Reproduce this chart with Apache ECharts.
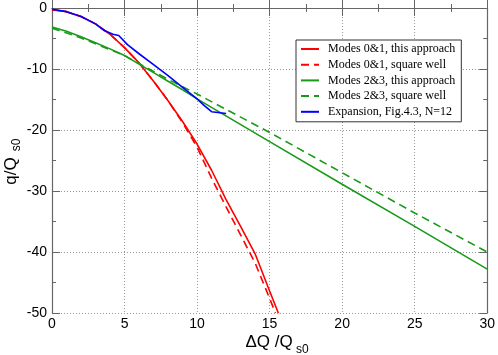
<!DOCTYPE html>
<html><head><meta charset="utf-8">
<script src="https://cdn.jsdelivr.net/npm/echarts@6/dist/echarts.min.js"></script>
<style>html,body{margin:0;padding:0;background:#fff}#c{width:498px;height:355px}</style>
</head><body><div id="c"></div>
<script>
// Data
const redSolidX = [0, 1, 2, 3, 4, 5, 6, 7, 8, 9, 10, 11, 12, 13, 14, 15, 15.6];
const redSolidY = [-0.3, -0.6, -1.4, -2.6, -4.3, -6.5, -9.0, -12.0, -15.2, -18.6, -22.3, -26.6, -31.4, -35.8, -40.3, -46.4, -50];
const redDashX = [0, 1, 2, 3, 4, 5, 6, 7, 8, 9, 10, 11, 12, 13, 14, 15, 15.4];
const redDashY = [-0.3, -0.6, -1.4, -2.6, -4.3, -6.5, -9.0, -12.0, -15.2, -18.8, -22.8, -27.9, -32.6, -37.2, -41.8, -47.6, -50];
const greenSolidX = [0, 1, 2, 3, 4, 5, 6, 7, 8, 9, 10, 15, 20, 25, 30];
const greenSolidY = [-3.1, -3.8, -4.7, -5.7, -6.7, -7.8, -9.2, -10.6, -12.0, -13.4, -14.9, -21.9, -28.9, -35.8, -42.8];
const greenDashX = [0, 2, 5, 7, 8, 10, 15, 20, 25, 30];
const greenDashY = [-3.3, -4.9, -7.8, -10.4, -11.7, -14.1, -20.4, -27.0, -33.6, -40.0];
const blueX = [0, 1, 2, 3, 3.6, 4.2, 4.6, 5.2, 6, 7, 8, 9, 10, 10.5, 11, 12];
const blueY = [-0.2, -0.6, -1.4, -2.6, -3.7, -4.3, -4.5, -6.0, -7.5, -9.3, -11.1, -13.0, -14.9, -16.0, -17.0, -17.3];
const seriesNames = ['Modes 0&1, this approach', 'Modes 0&1, square well', 'Modes 2&3, this approach', 'Modes 2&3, square well', 'Expansion, Fig.4.3, N=12'];
const xTicks = [0, 5, 10, 15, 20, 25, 30];
const yTicks = [0, -10, -20, -30, -40, -50];

const zip = (xs, ys) => xs.map((x, i) => [x, ys[i]]);
const RED = '#ff0000', GREEN = '#1a9a1a', BLUE = '#0000ff';
const dash = [8, 5];
function line(name, xs, ys, color, dashed, z) {
  return { name, type: 'line', data: zip(xs, ys), showSymbol: false, symbol: 'none', z,
    lineStyle: { color, width: 1.6, type: dashed ? dash : 'solid' }, itemStyle: { color }, animation: false };
}
const axisCol = '#666';
const gridLine = { show: true, lineStyle: { color: '#999', type: [1, 2], width: 1 } };
const tickCommon = { show: true, inside: true, length: 8, lineStyle: { color: axisCol } };
const minorCommon = { show: true, splitNumber: 2, length: 4, lineStyle: { color: axisCol } };
const labelFont = { fontFamily: 'Liberation Sans', fontSize: 14, color: '#000' };

const chart = echarts.init(document.getElementById('c'), null, { renderer: 'canvas' });
chart.setOption({
  animation: false,
  grid: { left: 52, right: 10, top: 8, bottom: 42, containLabel: false },
  xAxis: [
    { type: 'value', min: xTicks[0], max: xTicks[xTicks.length - 1], interval: 5, position: 'bottom',
      axisLine: { show: true, lineStyle: { color: axisCol, width: 1.2 } },
      axisTick: tickCommon, minorTick: minorCommon, splitLine: gridLine,
      axisLabel: Object.assign({ margin: 4 }, labelFont) },
    { type: 'value', min: 0, max: 30, interval: 5, position: 'top',
      axisLine: { show: true, onZero: false, lineStyle: { color: axisCol, width: 1.2 } },
      axisTick: tickCommon, minorTick: minorCommon, splitLine: { show: false }, axisLabel: { show: false } }
  ],
  yAxis: [
    { type: 'value', min: yTicks[yTicks.length - 1], max: yTicks[0], interval: 10, position: 'left',
      axisLine: { show: true, onZero: false, lineStyle: { color: axisCol, width: 1.2 } },
      axisTick: tickCommon, minorTick: minorCommon, splitLine: gridLine,
      axisLabel: Object.assign({ margin: 5 }, labelFont) },
    { type: 'value', min: -50, max: 0, interval: 10, position: 'right',
      axisLine: { show: true, onZero: false, lineStyle: { color: axisCol, width: 1.2 } },
      axisTick: tickCommon, minorTick: minorCommon, splitLine: { show: false }, axisLabel: { show: false } }
  ],
  legend: {
    orient: 'vertical', left: 296, top: 40,
    padding: [2, 6, 3, 4], itemGap: 1.7, itemWidth: 18, itemHeight: 14,
    borderColor: '#333', borderWidth: 1, backgroundColor: '#fff',
    itemStyle: { opacity: 0 },
    textStyle: { fontFamily: 'Liberation Serif', fontSize: 12, color: '#000', padding: [0, 0, 0, 4], lineHeight: 14 },
    data: seriesNames
  },
  series: [
    line(seriesNames[0], redSolidX, redSolidY, RED, false, 2),
    line(seriesNames[1], redDashX, redDashY, RED, true, 2),
    line(seriesNames[2], greenSolidX, greenSolidY, GREEN, false, 2),
    line(seriesNames[3], greenDashX, greenDashY, GREEN, true, 2),
    line(seriesNames[4], blueX, blueY, BLUE, false, 3)
  ],
  graphic: [
    { type: 'text', x: 269, y: 342, style: { text: 'ΔQ /Q', fontFamily: 'Liberation Sans', fontSize: 17, fill: '#000', textAlign: 'center', textVerticalAlign: 'middle' } },
    { type: 'text', x: 296, y: 350, style: { text: 's0', fontFamily: 'Liberation Sans', fontSize: 12, fill: '#000', textAlign: 'left', textVerticalAlign: 'middle' } },
    { type: 'text', x: 11, y: 171, rotation: Math.PI / 2, style: { text: 'q/Q', fontFamily: 'Liberation Sans', fontSize: 17, fill: '#000', textAlign: 'center', textVerticalAlign: 'middle' } },
    { type: 'text', x: 17, y: 145, rotation: Math.PI / 2, style: { text: 's0', fontFamily: 'Liberation Sans', fontSize: 12, fill: '#000', textAlign: 'center', textVerticalAlign: 'middle' } }
  ]
});
</script></body></html>
